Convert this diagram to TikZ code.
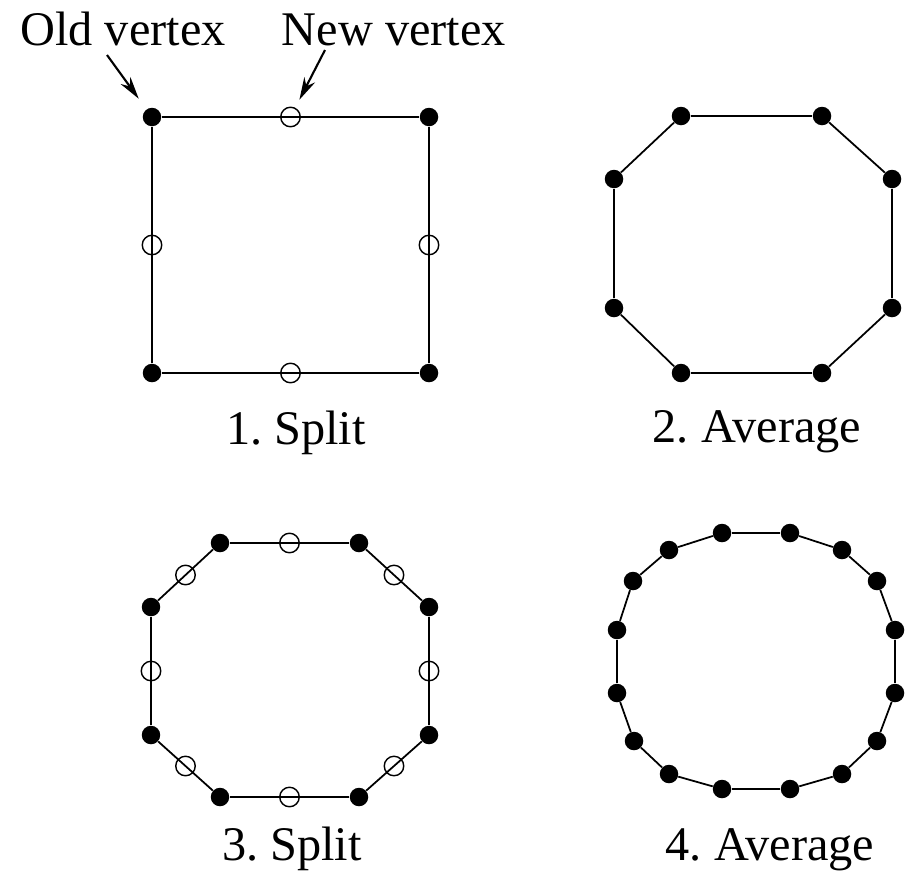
\documentclass[tikz,border=0pt]{standalone}
\usepackage{fontspec}
\setmainfont{Liberation Serif}
\usetikzlibrary{arrows.meta,calc}
\frenchspacing
\tikzset{
  olddot/.style={circle,fill=black,inner sep=0pt,minimum size=0.37cm},
  newdot/.style={circle,draw=black,line width=0.8pt,inner sep=0pt,minimum size=0.39cm},
  edge/.style={line width=1pt},
  pointer/.style={line width=1.2pt,-{Stealth[length=0.45cm,width=0.24cm]}},
  caption/.style={font=\fontsize{27.5}{33}\selectfont,anchor=base,inner sep=0pt}
}
\begin{document}
\begin{tikzpicture}[x=0.02cm,y=-0.02cm]
    \useasboundingbox (0,0) rectangle (910,873);
    % 1. split
        \foreach \n/\x/\y in {1/152/117,2/429/117,3/429/373,4/152/373}{
            \node[olddot] (a\n) at (\x,\y) {};
        }
        \foreach \i [remember=\i as \j (initially 4)] in {1,...,4}{
            \draw[edge] (a\j) -- (a\i);
            \node[newdot] (am\i) at ($(a\j)!0.5!(a\i)$) {};
        }
    % 2. average
        \foreach \n/\x/\y in {1/681/116,2/822/116,3/892/179,4/892/308,5/822/373,6/681/373,7/614/308,8/614/179}{
            \node[olddot] (b\n) at (\x,\y) {};
        }
        \foreach \i [remember=\i as \j (initially 8)] in {1,...,8}{
            \draw[edge] (b\j) -- (b\i);
        }
    % 3. split
        \foreach \n/\x/\y in {1/220/543,2/359/543,3/429/607,4/429/735,5/359/797,6/220/797,7/151/735,8/151/607}{
            \node[olddot] (c\n) at (\x,\y) {};
        }
        \foreach \i [remember=\i as \j (initially 8)] in {1,...,8}{
            \draw[edge] (c\j) -- (c\i);
            \node[newdot] (cm\i) at ($(c\j)!0.5!(c\i)$) {};
        }
    % 4. average
        \foreach \n/\x/\y in {1/722/533,2/790/533,3/842/550,4/877/581,5/895/630,6/895/693,7/877/741,8/842/774,
                              9/790/789,10/722/789,11/669/774,12/634/741,13/617/693,14/617/630,15/633/581,16/669/550}{
            \node[olddot] (d\n) at (\x,\y) {};
        }
        \foreach \i [remember=\i as \j (initially 16)] in {1,...,16}{
            \draw[edge] (d\j) -- (d\i);
        }
    % labels
        \node[caption] (old) at (123,45) {Old vertex};
        \node[caption] (new) at (394,45) {New vertex};
        \coordinate (oldtail) at (107,55);
        \coordinate (newtail) at (325,50);
        \draw[pointer,shorten >=0.26cm] (oldtail) -- (a1);
        \draw[pointer,shorten >=0.18cm] (newtail) -- (am2);
        \node[caption] (cap1) at (296,444) {1. Split};
        \node[caption] (cap2) at (757,442) {2. Average};
        \node[caption] (cap3) at (292,860) {3. Split};
        \node[caption] (cap4) at (770,860) {4. Average};
\end{tikzpicture}
\end{document}
